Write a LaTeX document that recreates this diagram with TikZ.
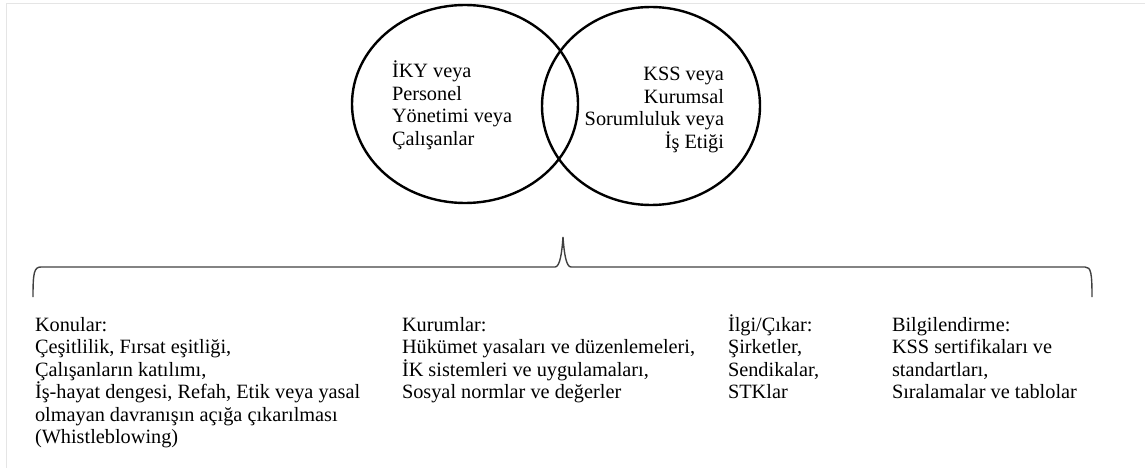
\documentclass[tikz,border=0pt]{standalone}
\usepackage{fontspec}
\setmainfont{Liberation Serif}
\begin{document}
\begin{tikzpicture}[x=1pt,y=-1pt,
  txt/.style={inner sep=0pt,outer sep=0pt,font=\fontsize{20.3}{22.5}\selectfont},
  lefttxt/.style={txt,anchor=north west,align=left},
  righttxt/.style={txt,anchor=north east,align=right},
  ring/.style={draw=black,line width=2.4pt},
  bracepath/.style={draw=black!75,line width=1.4pt}]
% page frame
\useasboundingbox (0,0) rectangle (1145,468);
\draw[black!10,line width=1pt] (6,468) -- (6,3.5) -- (1145,3.5);
% first-line strut so every block is placed by its first baseline
\newcommand{\fls}{\rule{0pt}{19pt}}

% the two overlapping sets
\draw[ring] (465,104) ellipse [x radius=113, y radius=99];
\draw[ring] (651,106) ellipse [x radius=109, y radius=99];

\node[lefttxt] (iky) at (392,59)
  {\fls İKY veya\\Personel\\Yönetimi veya\\Çalışanlar};
\node[righttxt] (kss) at (724,62)
  {\fls KSS veya\\Kurumsal\\Sorumluluk veya\\İş Etiği};

% curly brace spanning the four columns
\coordinate (bl) at (33,297);
\coordinate (br) at (1092,297);
\coordinate (tip) at (563,237);
\draw[bracepath] (bl) .. controls (33,273) and (34,267) .. (41,267)
  -- (555,267) .. controls (560,267) and (562,252) .. (tip)
  .. controls (564,252) and (566,267) .. (571,267)
  -- (1085,267) .. controls (1091,267) and (1092,273) .. (br);

% four columns of items
\node[lefttxt] (konular) at (35,312)
  {\fls Konular:\\Çeşitlilik, Fırsat eşitliği,\\Çalışanların katılımı,\\İş-hayat dengesi, Refah, Etik veya yasal\\olmayan davranışın açığa çıkarılması\\(Whistleblowing)};
\node[lefttxt] (kurumlar) at (402,312)
  {\fls Kurumlar:\\Hükümet yasaları ve düzenlemeleri,\\İK sistemleri ve uygulamaları,\\Sosyal normlar ve değerler};
\node[lefttxt] (ilgi) at (728,312)
  {\fls İlgi/Çıkar:\\Şirketler,\\Sendikalar,\\STKlar};
\node[lefttxt] (bilgi) at (892,312)
  {\fls Bilgilendirme:\\KSS sertifikaları ve\\standartları,\\Sıralamalar ve tablolar};
\end{tikzpicture}
\end{document}
